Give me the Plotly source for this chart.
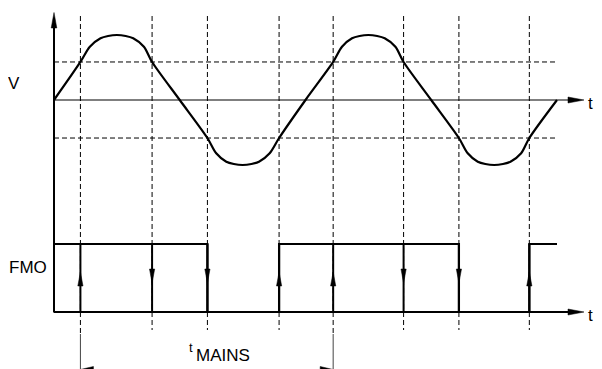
import plotly.graph_objects as go

# ---------------- data ----------------
# time in ms (one mains period = 20 ms), V normalised to its peak
wave_t = [0, 2.1, 2.85, 3.7, 4.3, 5.0, 5.7, 6.3, 7.15, 7.8, 10.0,
          12.2, 12.9, 13.7, 14.3, 15.0, 15.7, 16.3, 17.15, 17.9, 20.0,
          22.2, 22.9, 23.7, 24.3, 25.0, 25.7, 26.3, 27.15, 27.8, 30.0,
          32.2, 32.9, 33.7, 34.3, 35.0, 35.7, 36.3, 37.15, 37.8, 40.0]
wave_v = [0, 0.585, 0.82, 0.95, 0.985, 1.0, 0.985, 0.95, 0.82, 0.585, 0,
          -0.585, -0.82, -0.95, -0.985, -1.0, -0.985, -0.95, -0.82, -0.585, 0,
          0.585, 0.82, 0.95, 0.985, 1.0, 0.985, 0.95, 0.82, 0.585, 0,
          -0.585, -0.82, -0.95, -0.985, -1.0, -0.985, -0.95, -0.82, -0.585, 0]
threshold_v = [0.585, -0.585]
crossing_t = [2.1, 7.8, 12.2, 17.9, 22.2, 27.8, 32.2, 37.8]
crossing_dir = ["up", "down", "down", "up", "up", "down", "down", "up"]
fmo_t = [0, 12.2, 17.9, 32.2, 37.8, 40.0]
fmo_level = [1, 0, 1, 0, 1, 1]
tmains_start, tmains_end = 2.1, 22.2
wave_end = 40.0

# ---------------- geometry / style ----------------
PAGE_W, PAGE_H = 602, 369
OFF = 8                      # default page margin around the plot div
W, H = PAGE_W - OFF, PAGE_H - OFF
X0_PX, PX_PER_MS = 54.0, 12.575
V0_PX, PX_PER_V = 100.0, 65.0
F0_PX, PX_PER_F = 312.0, 68.0
FONT = "Liberation Sans, Arial, Helvetica, sans-serif"
DASH = "5px,3px"
FS = 17
ARROW_TIP_PX = 584           # right end of the time axes
T_LABEL_PX = 590


def tx(px):
    return (px - X0_PX) / PX_PER_MS


def vy(px):
    return (V0_PX - px) / PX_PER_V


def fy(px):
    return (F0_PX - px) / PX_PER_F


fig = go.Figure()

fig.add_trace(go.Scatter(x=wave_t, y=wave_v, mode="lines",
                         line=dict(color="black", width=2.2, shape="spline", smoothing=0.8),
                         hoverinfo="skip", showlegend=False, cliponaxis=False))
fig.add_trace(go.Scatter(x=fmo_t, y=fmo_level, mode="lines", yaxis="y2",
                         line=dict(color="black", width=2.2, shape="hv"),
                         hoverinfo="skip", showlegend=False, cliponaxis=False))

shapes = []


def line(x0, y0, x1, y1, yref="y", width=1.0, dash="solid", color="black", layer="above"):
    shapes.append(dict(type="line", xref="x", yref=yref, x0=x0, y0=y0, x1=x1, y1=y1,
                       line=dict(color=color, width=width, dash=dash), layer=layer))


def tri(pts, yref="y", color="black"):
    p = "M " + " L ".join(f"{a},{b}" for a, b in pts) + " Z"
    shapes.append(dict(type="path", xref="x", yref=yref, path=p,
                       fillcolor=color, line=dict(color=color, width=0.5), layer="above"))


# dashed threshold lines
for v in threshold_v:
    line(0, v, wave_end, v, width=1.0, dash=DASH, layer="below")

# dashed vertical lines at threshold crossings
for t in crossing_t:
    bottom = 334 if t in (tmains_start, tmains_end) else 330
    line(t, vy(16), t, vy(bottom), width=1.0, dash=DASH, layer="below")

# tMAINS bracket
for t in (tmains_start, tmains_end):
    line(t, fy(334), t, fy(371), yref="y2", width=1.0, color="#444")
ay = fy(369.5)
tri([(tmains_start, ay), (tmains_start + tx(X0_PX + 13), fy(366.5)),
     (tmains_start + tx(X0_PX + 13), fy(372.5))], yref="y2")
tri([(tmains_end, ay), (tmains_end - tx(X0_PX + 13), fy(366.5)),
     (tmains_end - tx(X0_PX + 13), fy(372.5))], yref="y2")

# vertical axis
line(0, vy(312.5), 0, vy(24), width=2.0)
tri([(0, vy(12.5)), (tx(X0_PX - 2.8), vy(28)), (tx(X0_PX + 2.8), vy(28))])

# V zero axis
line(0, 0, tx(ARROW_TIP_PX - 12), 0, width=1.2)
tri([(tx(ARROW_TIP_PX), 0), (tx(ARROW_TIP_PX - 16), vy(V0_PX - 3)),
     (tx(ARROW_TIP_PX - 16), vy(V0_PX + 3))])

# FMO time axis
line(0, 0, tx(ARROW_TIP_PX - 12), 0, yref="y2", width=2.0)
tri([(tx(ARROW_TIP_PX), 0), (tx(ARROW_TIP_PX - 16), fy(F0_PX - 3)),
     (tx(ARROW_TIP_PX - 16), fy(F0_PX + 3))], yref="y2")

# FMO event markers
hw = tx(X0_PX + 2.6)
for t, d in zip(crossing_t, crossing_dir):
    line(t, 0, t, 1, yref="y2", width=2.0)
    if d == "up":
        tri([(t, fy(272)), (t - hw, fy(286)), (t + hw, fy(286))], yref="y2")
    else:
        tri([(t, fy(283)), (t - hw, fy(269)), (t + hw, fy(269))], yref="y2")

annotations = [
    dict(text="V", x=tx(13.8), y=vy(83), xref="x", yref="y", showarrow=False,
         font=dict(size=FS, color="black", family=FONT)),
    dict(text="FMO", x=tx(27.5), y=fy(267), xref="x", yref="y2", showarrow=False,
         font=dict(size=FS, color="black", family=FONT)),
    dict(text="t", x=tx(T_LABEL_PX), y=vy(103), xref="x", yref="y", showarrow=False,
         font=dict(size=FS, color="black", family=FONT)),
    dict(text="t", x=tx(T_LABEL_PX), y=fy(315), xref="x", yref="y2", showarrow=False,
         font=dict(size=FS, color="black", family=FONT)),
    dict(text="t", x=tx(190.5), y=fy(347.5), xref="x", yref="y2", showarrow=False,
         font=dict(size=13, color="black", family=FONT)),
    dict(text="MAINS", x=tx(222.5), y=fy(355.5), xref="x", yref="y2", showarrow=False,
         font=dict(size=FS, color="black", family=FONT)),
]

fig.update_layout(
    width=W, height=H, autosize=False,
    margin=dict(l=0, r=0, t=0, b=0, pad=0),
    paper_bgcolor="white", plot_bgcolor="white",
    xaxis=dict(range=[tx(OFF), tx(OFF + W)], visible=False, fixedrange=True),
    yaxis=dict(range=[vy(OFF + H), vy(OFF)], visible=False, fixedrange=True),
    yaxis2=dict(range=[fy(OFF + H), fy(OFF)], visible=False, fixedrange=True,
                overlaying="y"),
    shapes=shapes, annotations=annotations,
    showlegend=False,
)

fig.write_html("out.html")
